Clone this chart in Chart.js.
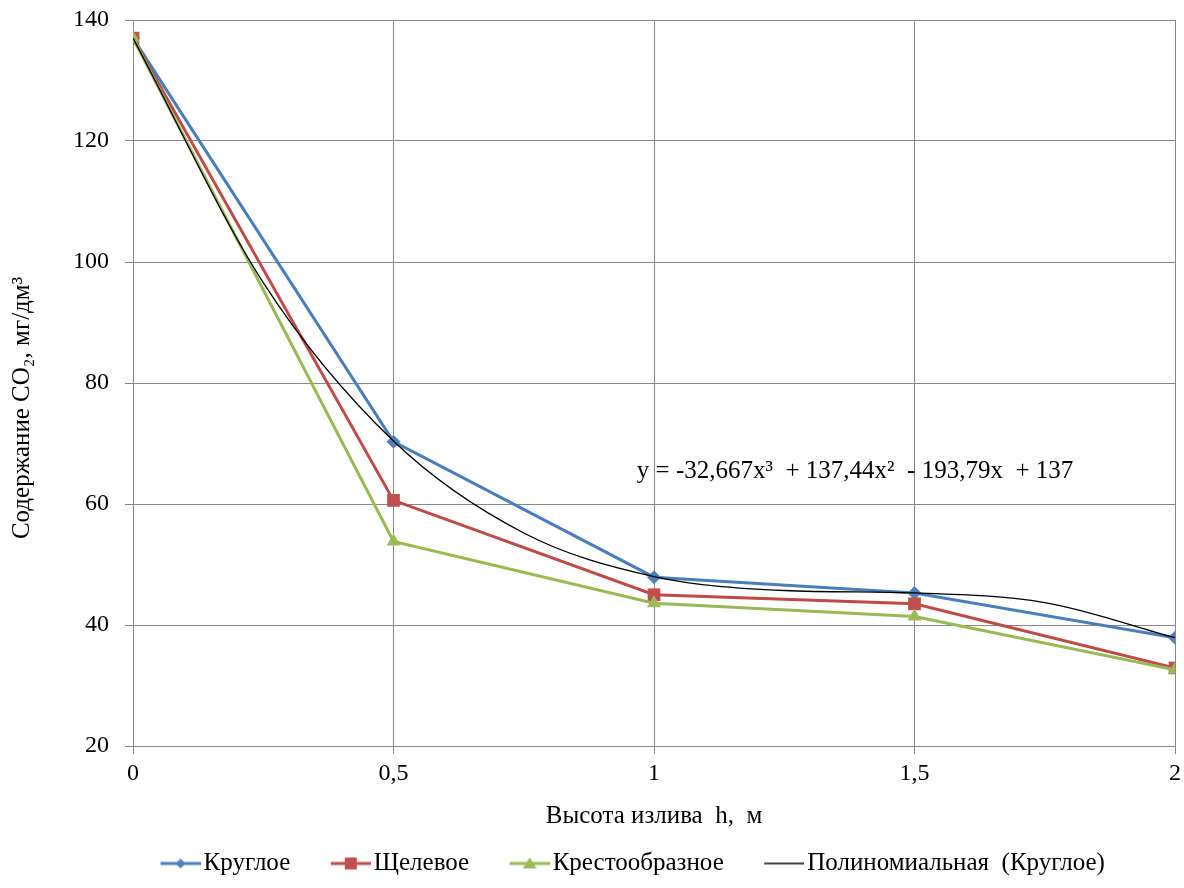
<!DOCTYPE html>
<html>
<head>
<meta charset="utf-8">
<script src="https://cdn.jsdelivr.net/npm/chart.js@4/dist/chart.umd.min.js"></script>
<style>
  html, body { margin: 0; padding: 0; background: #fff; }
  #wrap { width: 1184px; height: 888px; }
</style>
</head>
<body>
<div id="wrap"><canvas id="chart" width="1184" height="888"></canvas></div>
<script>
const heights = [0, 0.5, 1, 1.5, 2];
const roundValues = [137, 70.3, 47.9, 45.3, 37.9];
const slotValues = [137, 60.6, 45.0, 43.5, 32.9];
const crossValues = [137, 53.8, 43.6, 41.4, 32.6];

// trend line
const trendX = [0, 0.25, 0.5, 0.75, 1, 1.25, 1.5, 1.75, 2];
const trendY = [137, 96.6, 70.4, 55.2, 48.0, 45.7, 45.3, 43.7, 37.9];

const seriesNames = ['Круглое', 'Щелевое', 'Крестообразное', 'Полиномиальная  (Круглое)'];
const equationText = 'y = -32,667x³  + 137,44x²  - 193,79x  + 137';
const equationAt = { x: 0.967, y: 65.4 };

const FONT = 'Liberation Serif, Times New Roman, serif';
const GRID = '#878787';
const colors = {
    blue: '#4A7EBB', blueMark: '#4F81BD',
    red: '#BE4B48', redMark: '#C0504D',
    green: '#98B954', greenMark: '#9BBB59'
};

const pts = (xs, ys) => xs.map((x, i) => ({ x: x, y: ys[i] }));

// legend swatch: short line with the marker in the middle
function swatch(color, markColor, shape, lw) {
    const c = document.createElement('canvas');
    c.width = 85; c.height = 20;
    const g = c.getContext('2d');
    g.strokeStyle = color;
    g.lineWidth = lw;
    g.beginPath(); g.moveTo(45, 10); g.lineTo(85, 10); g.stroke();
    g.fillStyle = markColor;
    const cx = 65, cy = 10;
    g.beginPath();
    if (shape === 'diamond') {
        g.moveTo(cx, cy - 5); g.lineTo(cx + 5, cy); g.lineTo(cx, cy + 5); g.lineTo(cx - 5, cy);
    } else if (shape === 'square') {
        g.rect(cx - 6, cy - 6, 12, 12);
    } else if (shape === 'triangle') {
        g.moveTo(cx, cy - 6); g.lineTo(cx + 7, cy + 5); g.lineTo(cx - 7, cy + 5);
    }
    g.closePath();
    if (shape) g.fill();
    return c;
}

const swatches = [
    swatch(colors.blue, colors.blueMark, 'diamond', 3),
    swatch(colors.red, colors.redMark, 'square', 3),
    swatch(colors.green, colors.greenMark, 'triangle', 3),
    swatch('#000', '#000', null, 1.3)
];

const equationLabel = {
    id: 'equationLabel',
    afterDatasetsDraw(chart) {
        const ctx = chart.ctx;
        const x = chart.scales.x.getPixelForValue(equationAt.x);
        const y = chart.scales.y.getPixelForValue(equationAt.y);
        ctx.save();
        ctx.font = '25px ' + FONT;
        ctx.fillStyle = '#000';
        ctx.textAlign = 'left';
        ctx.textBaseline = 'middle';
        ctx.fillText(equationText, x, y);
        ctx.restore();
    }
};

// nudge the legend a bit to the right, like the original
const legendShift = {
    id: 'legendShift',
    afterLayout(chart) {
        chart.legend.left += 27;
        chart.legend.right += 27;
    }
};

new Chart(document.getElementById('chart'), {
    type: 'line',
    data: {
        datasets: [
            {
                label: seriesNames[0],
                data: pts(heights, roundValues),
                borderColor: colors.blue,
                backgroundColor: colors.blueMark,
                borderWidth: 3,
                pointStyle: 'rectRot',
                pointRadius: 7,
                pointBorderWidth: 0,
                order: 4
            },
            {
                label: seriesNames[1],
                data: pts(heights, slotValues),
                borderColor: colors.red,
                backgroundColor: colors.redMark,
                borderWidth: 3,
                pointStyle: 'rect',
                pointRadius: 9,
                pointBorderWidth: 0,
                order: 3
            },
            {
                label: seriesNames[2],
                data: pts(heights, crossValues),
                borderColor: colors.green,
                backgroundColor: colors.greenMark,
                borderWidth: 3,
                pointStyle: 'triangle',
                pointRadius: 8,
                pointBorderWidth: 0,
                order: 2
            },
            {
                label: seriesNames[3],
                data: pts(trendX, trendY),
                borderColor: '#000',
                borderWidth: 1.3,
                pointRadius: 0,
                cubicInterpolationMode: 'monotone',
                order: 1
            }
        ]
    },
    options: {
        responsive: false,
        animation: false,
        layout: { padding: { top: 20, right: 8, left: 0, bottom: 2 } },
        plugins: {
            tooltip: { enabled: false },
            legend: {
                position: 'bottom',
                labels: {
                    usePointStyle: true,
                    pointStyleWidth: 66,
                    padding: 5,
                    color: '#000',
                    font: { family: FONT, size: 25 },
                    generateLabels: (chart) => chart.data.datasets.map((ds, i) => ({
                        text: ds.label,
                        pointStyle: swatches[i],
                        fillStyle: 'transparent',
                        strokeStyle: 'transparent',
                        lineWidth: 0,
                        fontColor: '#000',
                        datasetIndex: i
                    }))
                }
            }
        },
        scales: {
            x: {
                type: 'linear',
                min: 0,
                max: 2,
                afterFit: (s) => { s.height = 100; s.paddingLeft = 0; s.paddingRight = 0; },
                ticks: {
                    stepSize: 0.5,
                    padding: 5,
                    color: '#000',
                    font: { family: FONT, size: 24 },
                    callback: (v) => String(v).replace('.', ',')
                },
                grid: { color: GRID, tickLength: 8, lineWidth: 1 },
                border: { color: GRID },
                title: {
                    display: true,
                    text: 'Высота излива  h,  м',
                    color: '#000',
                    font: { family: FONT, size: 25 },
                    padding: { top: 0, bottom: 15 }
                }
            },
            y: {
                min: 20,
                max: 140,
                afterFit: (s) => { s.width = 133; s.paddingTop = 0; s.paddingBottom = 0; },
                ticks: {
                    stepSize: 20,
                    padding: 16,
                    color: '#000',
                    font: { family: FONT, size: 24 }
                },
                grid: { color: GRID, tickLength: 8, lineWidth: 1 },
                border: { color: GRID },
                title: {
                    display: true,
                    text: 'Содержание CO₂, мг/дм³\u00A0\u00A0\u00A0\u00A0\u00A0\u00A0\u00A0\u00A0',
                    color: '#000',
                    font: { family: FONT, size: 25 },
                    padding: { top: 7, bottom: 0 }
                }
            }
        }
    },
    plugins: [equationLabel, legendShift]
});
</script>
</body>
</html>
